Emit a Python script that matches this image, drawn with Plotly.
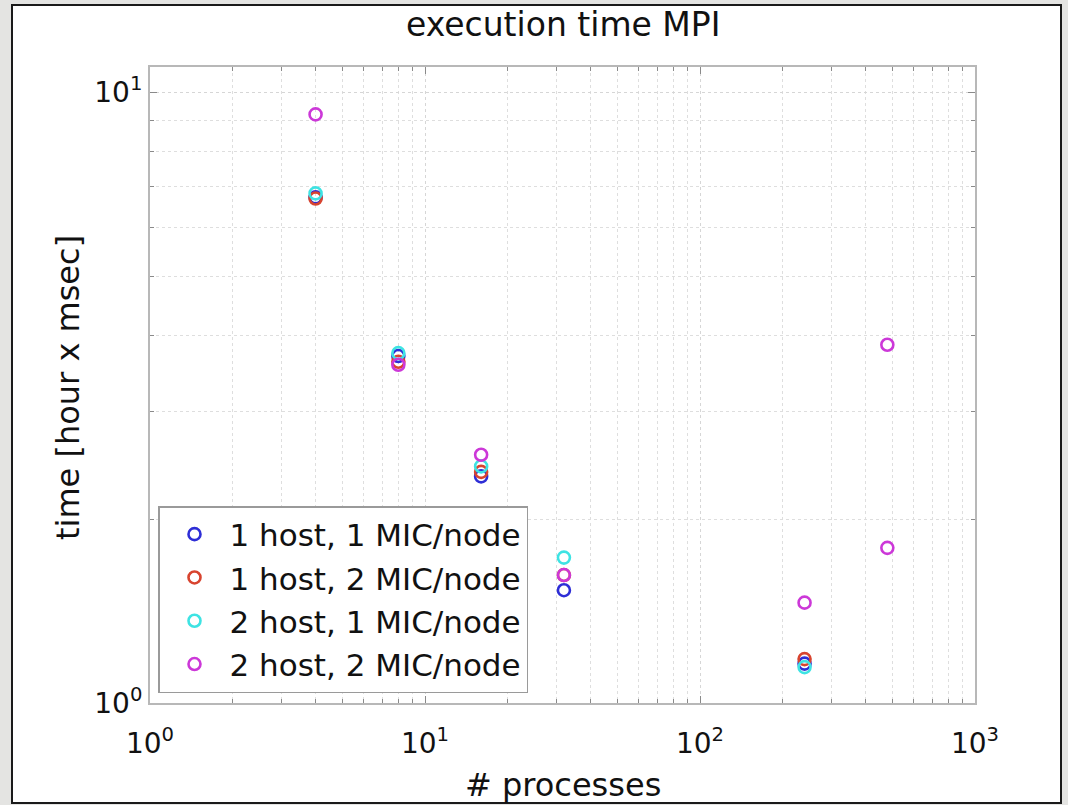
import plotly.graph_objects as go
import numpy as np

# data
series_names = ["1 host, 1 MIC/node", "1 host, 2 MIC/node", "2 host, 1 MIC/node", "2 host, 2 MIC/node"]
x_1h1m = [4, 8, 16, 32, 240]
y_1h1m = [6.73, 3.70, 2.35, 1.53, 1.16]
x_1h2m = [4, 8, 16, 32, 240]
y_1h2m = [6.70, 3.62, 2.39, 1.62, 1.18]
x_2h1m = [4, 8, 16, 32, 240]
y_2h1m = [6.83, 3.74, 2.44, 1.73, 1.145]
x_2h2m = [4, 8, 16, 32, 240, 480, 480]
y_2h2m = [9.2, 3.58, 2.55, 1.62, 1.46, 1.795, 3.86]
colors = ["#2e2ed6", "#d8442f", "#3ee3e3", "#cc38d8"]
x_tickvals = [1, 10, 100, 1000]
x_ticktext = ["10<sup>0</sup>", "10<sup>1</sup>", "10<sup>2</sup>", "10<sup>3</sup>"]
y_tickvals = [1, 10]
y_ticktext = ["10<sup>0</sup>", "10<sup>1</sup>"]

xs = [x_1h1m, x_1h2m, x_2h1m, x_2h2m]
ys = [y_1h1m, y_1h2m, y_2h1m, y_2h2m]

FONT = "DejaVu Sans, Liberation Sans, sans-serif"

fig = go.Figure()
for name, xv, yv, c in zip(series_names, xs, ys, colors):
    fig.add_trace(go.Scatter(
        x=xv, y=yv, mode="markers", name=name,
        marker=dict(symbol="circle-open", size=12, color=c, line=dict(width=2.6, color=c)),
    ))

minor_x = [m * 10**d for d in range(0, 3) for m in range(2, 10)]
minor_y = [m for m in range(2, 10)]

L, R, T, B = 150, 93, 67, 102
W, H = 1068, 805
pw = W - L - R
ph = H - T - B

def px_x(p):
    return (p - L) / pw

def px_y(p):
    return (H - B - p) / ph

fig.update_layout(
    width=W, height=H,
    margin=dict(l=L, r=R, t=T, b=B),
    paper_bgcolor="#e4e4e2",
    plot_bgcolor="rgba(0,0,0,0)",
    font=dict(family=FONT, color="#111111", size=30),
    showlegend=True,
    legend=dict(
        x=px_x(158), y=px_y(693), xanchor="left", yanchor="bottom",
        bgcolor="white", bordercolor="#9a9a9a", borderwidth=1.5,
        font=dict(size=31, family=FONT, color="#111111"),
        itemwidth=60,
    ),
    shapes=[dict(type="rect", xref="paper", yref="paper",
                 x0=px_x(12), x1=px_x(1061), y0=px_y(803), y1=px_y(5),
                 fillcolor="white", line=dict(color="#1a1a1a", width=2), layer="below")],
    annotations=[
        dict(text="execution time MPI", xref="paper", yref="paper", x=px_x(563), y=px_y(25),
             showarrow=False, font=dict(size=33, family=FONT, color="#111111"), xanchor="center", yanchor="middle"),
        dict(text="# processes", xref="paper", yref="paper", x=px_x(563), y=px_y(785),
             showarrow=False, font=dict(size=32, family=FONT, color="#111111"), xanchor="center", yanchor="middle"),
        dict(text="time [hour x msec]", xref="paper", yref="paper", x=px_x(68), y=px_y(388),
             showarrow=False, textangle=-90, font=dict(size=32, family=FONT, color="#111111"),
             xanchor="center", yanchor="middle"),
    ],
)

axis_common = dict(
    showline=True, linecolor="#b8b8b8", linewidth=2, mirror="allticks",
    ticks="inside", ticklen=7, tickcolor="#8a8a8a", tickwidth=1,
    showgrid=True, gridcolor="#d6d6d6", griddash="dot", gridwidth=1,
    zeroline=False, tickfont=dict(size=28, family=FONT, color="#111111"),
)

fig.update_xaxes(
    type="log", range=[0, 3], tickmode="array", tickvals=x_tickvals, ticktext=x_ticktext,
    ticklabelstandoff=14,
    minor=dict(tickmode="array", tickvals=minor_x, ticks="inside", ticklen=4, tickcolor="#8a8a8a",
               showgrid=True, gridcolor="#dedede", griddash="dot", gridwidth=1),
    **axis_common,
)
fig.update_yaxes(
    type="log", range=[0, np.log10(11)], tickmode="array", tickvals=y_tickvals, ticktext=y_ticktext,
    minor=dict(tickmode="array", tickvals=minor_y, ticks="inside", ticklen=4, tickcolor="#8a8a8a",
               showgrid=True, gridcolor="#dedede", griddash="dot", gridwidth=1),
    **axis_common,
)

fig.write_html(
    "out.html",
    config={"displayModeBar": False},
    post_script="document.body.style.margin='0';document.body.style.background='#e4e4e2';",
)
